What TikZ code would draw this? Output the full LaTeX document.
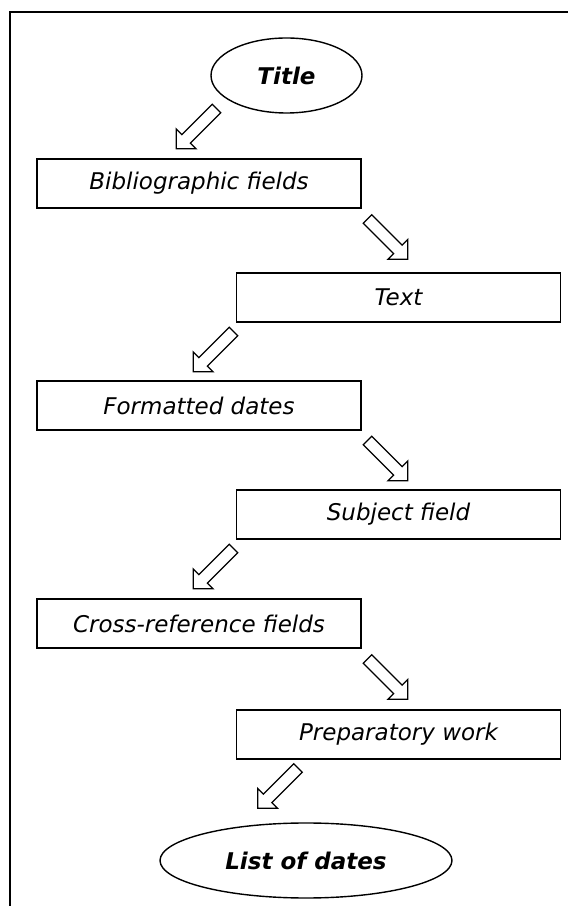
\documentclass[tikz,border=0pt]{standalone}
\usepackage{fontspec}
\setmainfont{DejaVu Sans}
\usetikzlibrary{shapes.geometric}
\tikzset{
  x=1pt, y=1pt,
  stepbox/.style={draw, line width=1.8pt, rectangle, minimum width=324pt, minimum height=49pt, inner sep=0pt,
    font=\fontsize{23}{27}\selectfont\itshape},
  endbox/.style={draw, line width=1.4pt, ellipse, inner sep=0pt,
    font=\fontsize{23}{27}\selectfont\bfseries\itshape},
  arrowline/.style={draw, line width=1.3pt, fill=white, line join=miter},
  blockarrow/.pic={\path[arrowline] (0,-6)--(43,-6)--(43,-14)--(57,0)--(43,14)--(43,6)--(0,6)--cycle;}
}
\begin{document}
\begin{tikzpicture}
\useasboundingbox (0,0) rectangle (568,906);
\draw[line width=2pt] (9.5,0) -- (9.5,894.3) -- (568,894.3);

\node[endbox, minimum width=151pt, minimum height=75pt] (title) at (286.5,830.5) {Title};
\node[stepbox] (b1) at (199,722.5) {Bibliographic fields};
\node[stepbox] (b2) at (398.5,608.5) {Text};
\node[stepbox] (b3) at (199,500.5) {Formatted dates};
\node[stepbox] (b4) at (398.5,391.5) {Subject field};
\node[stepbox] (b5) at (199,282.5) {Cross-reference fields};
\node[stepbox] (b6) at (398.5,171.5) {Preparatory work};
\node[endbox, minimum width=292pt, minimum height=75pt] (list) at (306,45.5) {List of dates};

\pic[rotate=225] (a1) at (216.5,797.5) {blockarrow};
\pic[rotate=-45] (a2) at (367.5,687) {blockarrow};
\pic[rotate=225] (a3) at (233.5,574.5) {blockarrow};
\pic[rotate=-45] (a4) at (367.5,465.5) {blockarrow};
\pic[rotate=225] (a5) at (233.5,357.5) {blockarrow};
\pic[rotate=-45] (a6) at (367.5,247) {blockarrow};
\pic[rotate=225] (a7) at (298,138) {blockarrow};
\end{tikzpicture}
\end{document}
